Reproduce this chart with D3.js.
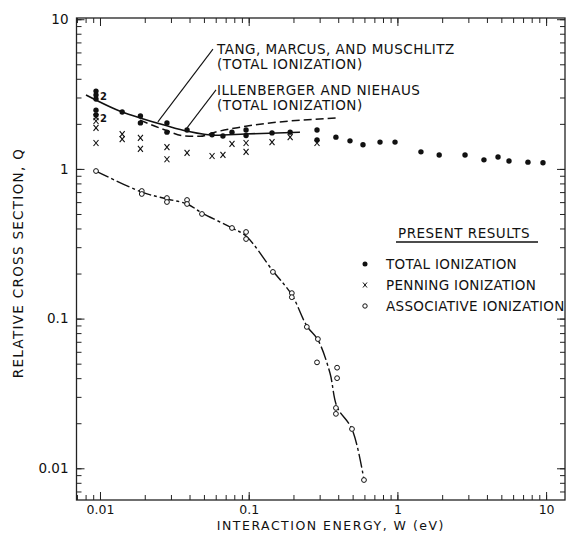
<!DOCTYPE html>
<html>
<head>
<meta charset="utf-8">
<script src="https://cdn.jsdelivr.net/npm/d3@7"></script>
<style>
  body { margin: 0; background: #fff; }
  svg text { font-family: "DejaVu Sans", sans-serif; fill: #111; }
</style>
</head>
<body>
<svg id="chart" width="570" height="533"></svg>
<script>
// present results (W in eV, Q relative)
var totalW = [0.0094, 0.0094, 0.0094, 0.0094, 0.0094, 0.0141, 0.0187, 0.0187, 0.0282, 0.0282,
              0.0385, 0.0567, 0.0671, 0.0772, 0.096, 0.096, 0.1435, 0.19, 0.288, 0.288,
              0.386, 0.48, 0.587, 0.764, 0.964, 1.44, 1.91, 2.85, 3.82, 4.75, 5.63, 7.55, 9.53];
var totalQ = [3.31, 3.12, 2.93, 2.47, 2.29, 2.40, 2.26, 2.03, 2.03, 1.76,
              1.82, 1.69, 1.66, 1.76, 1.82, 1.67, 1.74, 1.76, 1.82, 1.56,
              1.63, 1.54, 1.45, 1.51, 1.51, 1.30, 1.24, 1.24, 1.15, 1.20, 1.13, 1.11, 1.10];

var penningW = [0.0094, 0.0094, 0.0094, 0.0094, 0.0141, 0.0141, 0.0187, 0.0187, 0.0282, 0.0282,
                0.0385, 0.0567, 0.0671, 0.0772, 0.096, 0.096, 0.1435, 0.19, 0.288];
var penningQ = [2.22, 2.09, 1.88, 1.49, 1.71, 1.58, 1.61, 1.36, 1.40, 1.16,
                1.28, 1.22, 1.24, 1.47, 1.49, 1.30, 1.51, 1.63, 1.49];

var assocW = [0.0094, 0.0191, 0.0191, 0.0282, 0.0282, 0.0385, 0.0385, 0.0485, 0.0772, 0.096, 0.096,
              0.1455, 0.195, 0.195, 0.246, 0.292, 0.288, 0.393, 0.393, 0.386, 0.386, 0.495, 0.596];
var assocQ = [0.968, 0.712, 0.680, 0.639, 0.601, 0.620, 0.583, 0.500, 0.403, 0.379, 0.340,
              0.205, 0.148, 0.139, 0.088, 0.073, 0.051, 0.047, 0.040, 0.0253, 0.0231, 0.0183, 0.00835];

// "2" = two coincident points
var countW = [0.0094, 0.0094];
var countQ = [2.93, 2.10];

// curves
var tangW = [0.00805, 0.0141, 0.0186, 0.0282, 0.0385, 0.0593, 0.0944, 0.221];
var tangQ = [3.12, 2.40, 2.19, 1.94, 1.79, 1.68, 1.71, 1.76];

var illenW = [0.0186, 0.0274, 0.0373, 0.0471, 0.0593, 0.0875, 0.398];
var illenQ = [2.12, 1.82, 1.66, 1.65, 1.76, 1.90, 2.19];

var assocCurveW = [0.0094, 0.0191, 0.0282, 0.0385, 0.0485, 0.0772, 0.096, 0.1455, 0.195, 0.246, 0.292, 0.352, 0.393, 0.495, 0.596];
var assocCurveQ = [0.968, 0.70, 0.63, 0.583, 0.508, 0.403, 0.356, 0.208, 0.144, 0.0893, 0.0721, 0.0433, 0.0257, 0.0183, 0.00835];

var xTicks = [0.01, 0.1, 1, 10];
var xTickLabels = ["0.01", "0.1", "1", "10"];
var yTicks = [0.01, 0.1, 1, 10];
var yTickLabels = ["0.01", "0.1", "1", "10"];

var legendLabels = ["TOTAL IONIZATION", "PENNING IONIZATION", "ASSOCIATIVE IONIZATION"];

function zip(a, b) {
  return a.map(function(v, i) { return [v, b[i]]; });
}

function minorTicks(domain) {
  var out = [];
  for (var e = -4; e <= 2; e++) {
    for (var m = 1; m <= 9; m++) {
      var v = m * Math.pow(10, e);
      if (v >= domain[0] && v <= domain[1]) out.push(v);
    }
  }
  return out;
}

function renderChart(target) {
  var margins = {top: 18, right: 5, bottom: 33, left: 76.5};
  var svg = d3.select(target);
  var width = +svg.attr("width") - margins.left - margins.right,
      height = +svg.attr("height") - margins.top - margins.bottom;

  var x = d3.scaleLog().domain([0.00695, 13.4]).range([0, width]),
      y = d3.scaleLog().domain([0.00614, 10.19]).range([height, 0]);

  var g = svg.append("g")
      .attr("transform", "translate(" + margins.left + "," + margins.top + ")");

  // ticks on all four sides, pointing inward
  var xMinor = minorTicks(x.domain()), yMinor = minorTicks(y.domain());
  var sides = [
    {axis: d3.axisBottom, scale: x, minor: xMinor, major: xTicks, pos: "translate(0," + height + ")", labels: xTickLabels},
    {axis: d3.axisTop, scale: x, minor: xMinor, major: xTicks, pos: "translate(0,0)", labels: null},
    {axis: d3.axisLeft, scale: y, minor: yMinor, major: yTicks, pos: "translate(0,0)", labels: yTickLabels},
    {axis: d3.axisRight, scale: y, minor: yMinor, major: yTicks, pos: "translate(" + width + ",0)", labels: null}
  ];
  sides.forEach(function(s) {
    var gm = g.append("g").attr("transform", s.pos)
        .call(s.axis(s.scale).tickValues(s.minor).tickSizeInner(-5).tickSizeOuter(0).tickFormat(""));
    gm.select(".domain").remove();
    var gM = g.append("g").attr("transform", s.pos)
        .call(s.axis(s.scale).tickValues(s.major).tickSizeInner(-8).tickSizeOuter(0)
          .tickPadding(s.axis === d3.axisLeft ? 8 : 5)
          .tickFormat(function(d, i) { return s.labels ? s.labels[i] : ""; }));
    gM.select(".domain").remove();
    gM.selectAll("text")
        .style("font-size", s.axis === d3.axisLeft ? "13.5px" : "12.5px")
        .style("font-family", "DejaVu Sans, sans-serif").attr("fill", "#111");
  });
  g.selectAll(".tick line").attr("stroke", "#222").attr("stroke-width", 1);

  g.append("rect")
      .attr("width", width).attr("height", height)
      .attr("fill", "none").attr("stroke", "#222").attr("stroke-width", 1.3);

  // axis titles
  svg.append("text")
      .attr("x", margins.left + x(0.357)).attr("y", 530)
      .attr("text-anchor", "middle")
      .style("font-size", "12.5px").style("letter-spacing", "1.5px")
      .text("INTERACTION ENERGY, W (eV)");
  svg.append("text")
      .attr("transform", "translate(23," + (margins.top + y(0.235)) + ") rotate(-90)")
      .attr("text-anchor", "middle")
      .style("font-size", "13.5px").style("letter-spacing", "1.3px")
      .text("RELATIVE CROSS SECTION, Q");

  var line = d3.line()
      .x(function(d) { return x(d[0]); })
      .y(function(d) { return y(d[1]); })
      .curve(d3.curveMonotoneX);

  g.append("path").datum(zip(tangW, tangQ))
      .attr("d", line).attr("fill", "none").attr("stroke", "#111").attr("stroke-width", 1.6);
  g.append("path").datum(zip(illenW, illenQ))
      .attr("d", line).attr("fill", "none").attr("stroke", "#111").attr("stroke-width", 1.5)
      .attr("stroke-dasharray", "8,4");
  g.append("path").datum(zip(assocCurveW, assocCurveQ))
      .attr("d", line.curve(d3.curveCatmullRom)).attr("fill", "none").attr("stroke", "#111").attr("stroke-width", 1.4)
      .attr("stroke-dasharray", "14,3,3,3");

  // points
  g.selectAll(".total").data(zip(totalW, totalQ)).enter().append("circle")
      .attr("class", "total")
      .attr("cx", function(d) { return x(d[0]); })
      .attr("cy", function(d) { return y(d[1]); })
      .attr("r", 2.7).attr("fill", "#111");

  g.selectAll(".penning").data(zip(penningW, penningQ)).enter().append("path")
      .attr("class", "penning")
      .attr("transform", function(d) { return "translate(" + x(d[0]) + "," + y(d[1]) + ")"; })
      .attr("d", "M-2.5,-3L2.5,3M2.5,-3L-2.5,3")
      .attr("stroke", "#111").attr("stroke-width", 1.1).attr("fill", "none");

  g.selectAll(".assoc").data(zip(assocW, assocQ)).enter().append("circle")
      .attr("class", "assoc")
      .attr("cx", function(d) { return x(d[0]); })
      .attr("cy", function(d) { return y(d[1]); })
      .attr("r", 2.4).attr("fill", "#fff").attr("stroke", "#111").attr("stroke-width", 1);

  g.selectAll(".count").data(zip(countW, countQ)).enter().append("text")
      .attr("class", "count")
      .attr("x", function(d) { return x(d[0]) + 4; })
      .attr("y", function(d) { return y(d[1]) + 1; })
      .style("font-size", "10px").style("font-weight", "bold")
      .text("2");

  // annotations with leader lines
  var notes = [
    {w: 0.0612, q: 5.85, lines: ["TANG, MARCUS, AND MUSCHLITZ", "(TOTAL IONIZATION)"], from: [0.0575, 6.32], to: [0.0245, 2.06]},
    {w: 0.0612, q: 3.12, lines: ["ILLENBERGER AND NIEHAUS", "(TOTAL IONIZATION)"], from: [0.0603, 3.37], to: [0.0385, 1.88]}
  ];
  notes.forEach(function(n) {
    var t = g.append("text")
        .attr("x", x(n.w)).attr("y", y(n.q))
        .style("font-size", "13.5px").style("letter-spacing", "0.5px");
    n.lines.forEach(function(s, i) {
      t.append("tspan").attr("x", x(n.w)).attr("dy", i ? 15 : 0).text(s);
    });
    g.append("line")
        .attr("x1", x(n.from[0])).attr("y1", y(n.from[1]))
        .attr("x2", x(n.to[0])).attr("y2", y(n.to[1]))
        .attr("stroke", "#111").attr("stroke-width", 1.1);
  });

  // legend
  var lg = svg.append("g").attr("transform", "translate(365,238)");
  lg.append("text").attr("x", 33).attr("y", 0)
      .style("font-size", "13.5px").style("letter-spacing", "0.5px")
      .text("PRESENT RESULTS");
  lg.append("line").attr("x1", 31).attr("x2", 173).attr("y1", 4).attr("y2", 4)
      .attr("stroke", "#111").attr("stroke-width", 1.3);
  var items = lg.selectAll(".item").data(legendLabels).enter().append("g")
      .attr("class", "item")
      .attr("transform", function(d, i) { return "translate(0," + (26 + i * 21) + ")"; });
  items.append("text").attr("x", 21).attr("y", 5)
      .style("font-size", "13.5px").style("letter-spacing", "0.3px")
      .text(function(d) { return d; });
  items.filter(function(d, i) { return i === 0; }).append("circle").attr("r", 2.5).attr("fill", "#111");
  items.filter(function(d, i) { return i === 1; }).append("path")
      .attr("d", "M-2,-2.5L2,2.5M2,-2.5L-2,2.5").attr("stroke", "#111").attr("stroke-width", 1);
  items.filter(function(d, i) { return i === 2; }).append("circle").attr("r", 2.2)
      .attr("fill", "#fff").attr("stroke", "#111").attr("stroke-width", 1);
}

renderChart("#chart");
</script>
</body>
</html>
